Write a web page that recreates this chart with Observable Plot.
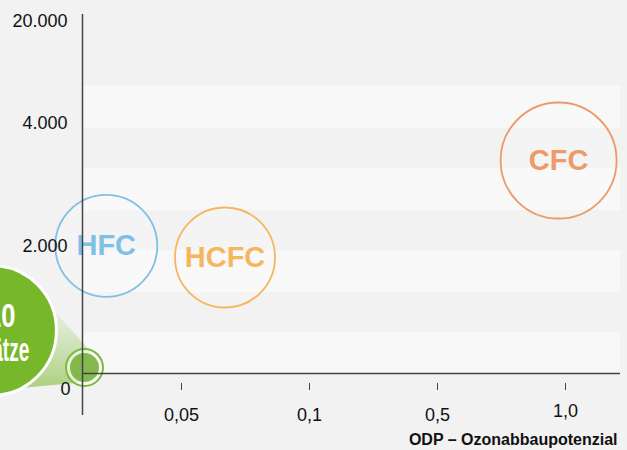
<!DOCTYPE html>
<html><head><meta charset="utf-8">
<script src="https://cdn.jsdelivr.net/npm/d3@7"></script>
<script src="https://cdn.jsdelivr.net/npm/@observablehq/plot@0.6"></script>
<style>
body{margin:0;background:#f2f2f2;}
</style></head><body><div id="chart"></div>
<script>
// Refrigerant groups: ODP (x) and GWP (y)
const refrigerants = ["HFC", "HCFC", "CFC"];
const odp = [0.012, 0.067, 0.973];
const gwp = [2010, 1827, 3398];
const bubbleR = [51, 50, 58];
const colors = ["#7fc0e6", "#f5b75e", "#ee9a68"];

// natural refrigerants (small dot near origin) and its call-out bubble
const naturalOdp = [0.001];
const naturalGwp = [94];
const calloutOdp = [-0.046];
const calloutGwp = [677];
const calloutLines = ["10", "Ansätze"];

// axes (broken, piecewise axes)
const xBreaks = [0, 0.05, 0.1, 0.5, 1.0];
const xTicks = [0.05, 0.1, 0.5, 1.0];
const xTickLabels = ["0,05", "0,1", "0,5", "1,0"];
const yBreaks = [0, 2000, 4000, 20000];
const yTicks = [2000, 4000, 20000];
const yTickLabels = ["2.000", "4.000", "20.000"];
const xTitle = "ODP – Ozonabbaupotenzial";

// light background bands (GWP units)
const bandLow = [0, 1276, 2585, 3919];
const bandHigh = [646, 1937, 3268, 9804];

const bubbles = refrigerants.map((name, i) => ({name, odp: odp[i], gwp: gwp[i], r: bubbleR[i], color: colors[i]}));
const bands = bandLow.map((lo, i) => ({lo, hi: bandHigh[i]}));
const natural = naturalOdp.map((o, i) => ({odp: o, gwp: naturalGwp[i]}));
const callout = calloutOdp.map((o, i) => ({odp: o, gwp: calloutGwp[i]}));
const xFmt = new Map(xTicks.map((t, i) => [t, xTickLabels[i]]));
const yFmt = new Map(yTicks.map((t, i) => [t, yTickLabels[i]]));

// piecewise mapping of the broken axes into evenly drawn segments
const xPiece = d3.scaleLinear().domain(xBreaks).range([0, 99, 227, 355, 483]);
const yPiece = d3.scaleLinear().domain(yBreaks).range([0, 127, 250, 352]);

const GREEN = "#77b82a";

function cone(index, scales) {
  const g = d3.create("svg:g");
  const bx = scales.x(xPiece(callout[0].odp)), by = scales.y(yPiece(callout[0].gwp)), R = 65;
  const sx = scales.x(xPiece(natural[0].odp)), sy = scales.y(yPiece(natural[0].gwp)), r = 17;
  const a = Math.atan2(sy - by, sx - bx);
  const spread = 0.72;
  const p1 = [bx + R * Math.cos(a - spread), by + R * Math.sin(a - spread)];
  const p2 = [sx + r * Math.cos(a - Math.PI / 2), sy + r * Math.sin(a - Math.PI / 2)];
  const p3 = [sx + r * Math.cos(a + Math.PI / 2), sy + r * Math.sin(a + Math.PI / 2)];
  const p4 = [bx + R * Math.cos(a + spread), by + R * Math.sin(a + spread)];
  const defs = g.append("defs");
  const lg = defs.append("linearGradient").attr("id", "coneGrad").attr("gradientUnits", "userSpaceOnUse")
    .attr("x1", p1[0]).attr("y1", p1[1]).attr("x2", (p3[0] + p4[0]) / 2).attr("y2", (p3[1] + p4[1]) / 2);
  lg.append("stop").attr("offset", 0).attr("stop-color", GREEN).attr("stop-opacity", 0.05);
  lg.append("stop").attr("offset", 1).attr("stop-color", GREEN).attr("stop-opacity", 0.55);
  g.append("polygon").attr("points", [p1, p2, p3, p4].map(p => p.join(",")).join(" "))
    .attr("fill", "url(#coneGrad)");
  return g.node();
}

const chart = Plot.plot({
  width: 627,
  height: 450,
  marginLeft: 82,
  marginRight: 7,
  marginTop: 14,
  marginBottom: 35,
  style: {background: "#f2f2f2", fontFamily: "'Liberation Sans', Arial, sans-serif", overflow: "hidden", color: "#111"},
  x: {transform: xPiece, domain: [0, 538], range: [82, 620], axis: null, label: null},
  y: {transform: yPiece, domain: [0, 359], range: [373, 14], axis: null, label: null},
  r: {type: "identity"},
  marks: [
    Plot.rectY(bands, {y1: "lo", y2: "hi", fill: "#f8f8f8"}),
    Plot.dot(bubbles, {x: "odp", y: "gwp", r: "r", stroke: "color", fill: "white", fillOpacity: 0.15, strokeWidth: 1.8}),
    Plot.text(bubbles, {x: "odp", y: "gwp", text: "name", fill: "color", fontWeight: "bold", fontSize: 29}),
    cone,
    Plot.dot(callout, {x: "odp", y: "gwp", r: 65, fill: GREEN, stroke: "white", strokeWidth: 3}),
    Plot.text(callout, {x: "odp", y: "gwp", text: () => calloutLines[0], textAnchor: "end", dx: 24, dy: -14, fill: "white", fontWeight: "bold", fontSize: 34}),
    Plot.text(callout, {x: "odp", y: "gwp", text: () => calloutLines[1], textAnchor: "end", dx: 38, dy: 20, fill: "white", fontWeight: "bold", fontSize: 33}),
    Plot.dot(natural, {x: "odp", y: "gwp", r: 18.5, fill: "white", fillOpacity: 0.6, stroke: "#7db83f", strokeWidth: 2}),
    Plot.dot(natural, {x: "odp", y: "gwp", r: 14.5, fill: "#7db543", fillOpacity: 0.95}),
    Plot.ruleY([0], {stroke: "#444", strokeWidth: 1.5}),
    Plot.ruleX([0], {stroke: "#444", strokeWidth: 1.5}),
    Plot.axisX(xTicks.slice(0, 3), {anchor: "bottom", label: null, dy: -32, tickSize: 7, tickPadding: 18, fontSize: 18, stroke: "#444", tickFormat: d => xFmt.get(d)}),
    Plot.axisX(xTicks.slice(3), {anchor: "bottom", label: null, dy: -32, tickSize: 7, tickPadding: 14, fontSize: 18, stroke: "#444", tickFormat: d => xFmt.get(d)}),
    Plot.axisY(yTicks, {anchor: "left", label: null, tickSize: 0, tickPadding: 15, fontSize: 18, tickFormat: d => yFmt.get(d)}),
    Plot.text([0], {x: 0, y: 0, text: () => "0", textAnchor: "end", dx: -12, dy: 16, fontSize: 18}),
    Plot.text([xTitle], {frameAnchor: "bottom-right", text: d => d, textAnchor: "end", dx: -3, dy: 29, fontSize: 16, fontWeight: "bold"})
  ]
});
document.getElementById("chart").append(chart);

// condensed look for the call-out lettering (compress glyphs horizontally, anchor kept)
const squeeze = new Map([[calloutLines[0], 0.75], [calloutLines[1], 0.58]]);
chart.querySelectorAll("text").forEach(t => {
  const s = squeeze.get(t.textContent);
  if (!s) return;
  const L = t.getComputedTextLength();
  t.setAttribute("textLength", L * s);
  t.setAttribute("lengthAdjust", "spacingAndGlyphs");
});
</script>
</body></html>
